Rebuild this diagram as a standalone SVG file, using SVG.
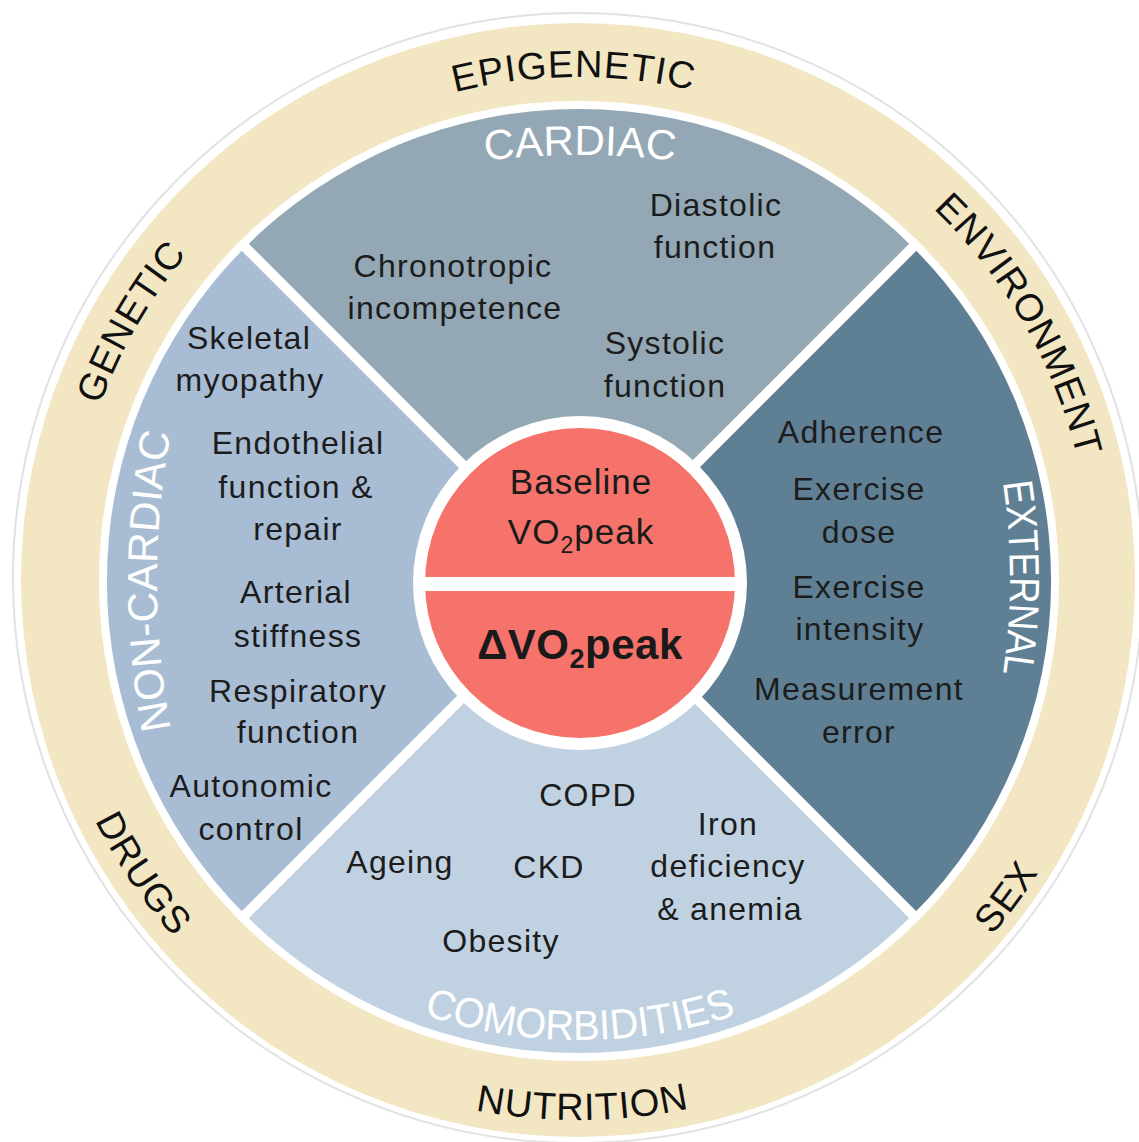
<svg xmlns="http://www.w3.org/2000/svg" width="1139" height="1142" viewBox="0 0 1139 1142">
<style>
.ring{font-family:"Liberation Sans",Arial,sans-serif;font-size:38px;letter-spacing:1px;fill:#111;}
.cat{font-family:"Liberation Sans",Arial,sans-serif;font-size:42px;fill:#fff;}
.item{font-family:"Liberation Sans",Arial,sans-serif;font-size:32px;letter-spacing:1.3px;fill:#1c1c1c;text-anchor:middle;}
.mid{font-family:"Liberation Sans",Arial,sans-serif;font-size:35px;letter-spacing:1px;fill:#1a1a1a;text-anchor:middle;}
.big{font-family:"Liberation Sans",Arial,sans-serif;font-size:42px;font-weight:bold;letter-spacing:0.5px;fill:#1a1a1a;text-anchor:middle;}
</style>
<defs>
<path id="p-epi" d="M189.9,260 A503,503 0 0 1 960.5,253.4"/>
<path id="p-gen" d="M99.7,754.1 A509,509 0 0 1 489.6,78.7"/>
<path id="p-env" d="M578,66 A514,514 0 0 1 1023.1,837"/>
<path id="p-drugs" d="M93.1,343.5 A539.5,539.5 0 0 0 615.7,1118.2"/>
<path id="p-sex" d="M516.2,1122 A545.5,545.5 0 0 0 1078.3,362.5"/>
<path id="p-nut" d="M112.7,854.1 A540,540 0 0 0 1048,845.9"/>
<path id="p-cardiac" d="M380,180.4 A800,800 0 0 1 780,180.4"/>
<path id="p-external" d="M970.8,355.7 A650,650 0 0 1 970.8,800.3"/>
<path id="p-noncardiac" d="M205.2,854.6 A800,800 0 0 1 205.2,307.4"/>
<path id="p-comorb" d="M258.6,923 A500,500 0 0 0 901.4,923"/>
</defs>
<rect width="1139" height="1142" fill="#fff"/>
<g id="outer-ring">
<circle cx="578" cy="578" r="565" fill="none" stroke="#e2e2e2" stroke-width="2"/>
<circle cx="578" cy="580" r="557" fill="#F3E7C3"/>
<circle cx="579" cy="581" r="480" fill="#fff"/>
<text class="ring"><textPath href="#p-epi" startOffset="50%" text-anchor="middle">EPIGENETIC</textPath></text>
<text class="ring"><textPath href="#p-gen" startOffset="50%" text-anchor="middle">GENETIC</textPath></text>
<text class="ring"><textPath href="#p-env" startOffset="50%" text-anchor="middle">ENVIRONMENT</textPath></text>
<text class="ring"><textPath href="#p-drugs" startOffset="50%" text-anchor="middle">DRUGS</textPath></text>
<text class="ring"><textPath href="#p-sex" startOffset="50%" text-anchor="middle">SEX</textPath></text>
<text class="ring"><textPath href="#p-nut" startOffset="50%" text-anchor="middle">NUTRITION</textPath></text>
</g>
<g id="cardiac">
<path d="M579,581 L245.2,247.2 A472,472 0 0 1 912.8,247.2 Z" fill="#93A8B4"/>
<text class="cat"><textPath href="#p-cardiac" startOffset="50%" text-anchor="middle" textLength="190" lengthAdjust="spacingAndGlyphs">CARDIAC</textPath></text>
<text class="item" x="716" y="216">Diastolic</text>
<text class="item" x="715" y="258">function</text>
<text class="item" x="453" y="277">Chronotropic</text>
<text class="item" x="455" y="319">incompetence</text>
<text class="item" x="665" y="354">Systolic</text>
<text class="item" x="665" y="397">function</text>
</g>
<g id="external">
<path d="M579,581 L912.8,247.2 A472,472 0 0 1 912.8,914.8 Z" fill="#5F8094"/>
<text class="cat"><textPath href="#p-external" startOffset="50%" text-anchor="middle" textLength="192" lengthAdjust="spacingAndGlyphs">EXTERNAL</textPath></text>
<text class="item" x="861" y="443">Adherence</text>
<text class="item" x="859" y="500">Exercise</text>
<text class="item" x="859" y="543">dose</text>
<text class="item" x="859" y="598">Exercise</text>
<text class="item" x="860" y="640">intensity</text>
<text class="item" x="859" y="700">Measurement</text>
<text class="item" x="859" y="743">error</text>
</g>
<g id="comorbidities">
<path d="M579,581 L912.8,914.8 A472,472 0 0 1 245.2,914.8 Z" fill="#C0D2E1"/>
<text class="cat"><textPath href="#p-comorb" startOffset="50%" text-anchor="middle" textLength="318" lengthAdjust="spacingAndGlyphs">COMORBIDITIES</textPath></text>
<text class="item" x="588" y="806">COPD</text>
<text class="item" x="728" y="835">Iron</text>
<text class="item" x="400" y="873">Ageing</text>
<text class="item" x="549" y="878">CKD</text>
<text class="item" x="728" y="877">deficiency</text>
<text class="item" x="730" y="920">&amp; anemia</text>
<text class="item" x="501" y="952">Obesity</text>
</g>
<g id="non-cardiac">
<path d="M579,581 L245.2,914.8 A472,472 0 0 1 245.2,247.2 Z" fill="#A8BDD4"/>
<text class="cat"><textPath href="#p-noncardiac" startOffset="50%" text-anchor="middle" textLength="298" lengthAdjust="spacingAndGlyphs">NON-CARDIAC</textPath></text>
<text class="item" x="249" y="349">Skeletal</text>
<text class="item" x="250" y="391">myopathy</text>
<text class="item" x="298" y="454">Endothelial</text>
<text class="item" x="296" y="498">function &amp;</text>
<text class="item" x="298" y="540">repair</text>
<text class="item" x="296" y="603">Arterial</text>
<text class="item" x="298" y="647">stiffness</text>
<text class="item" x="298" y="702">Respiratory</text>
<text class="item" x="298" y="743">function</text>
<text class="item" x="251" y="797">Autonomic</text>
<text class="item" x="251" y="840">control</text>
</g>
<g id="dividers" stroke="#fff" stroke-width="10" stroke-linecap="butt">
<line x1="241" y1="243" x2="917" y2="919"/>
<line x1="917" y1="243" x2="241" y2="919"/>
</g>
<g id="vo2peak">
<circle cx="580" cy="583" r="167" fill="#fff"/>
<circle cx="580" cy="583" r="155" fill="#F6736B"/>
<rect x="420" y="577" width="320" height="14" fill="#fff"/>
<text class="mid" x="581" y="494">Baseline</text>
<text class="mid" x="581" y="544" letter-spacing="1.5">VO<tspan font-size="23" dy="9">2</tspan><tspan dy="-9">peak</tspan></text>
<text class="big" x="580" y="659">ΔVO<tspan font-size="27" dy="9">2</tspan><tspan dy="-9">peak</tspan></text>
</g>
</svg>
